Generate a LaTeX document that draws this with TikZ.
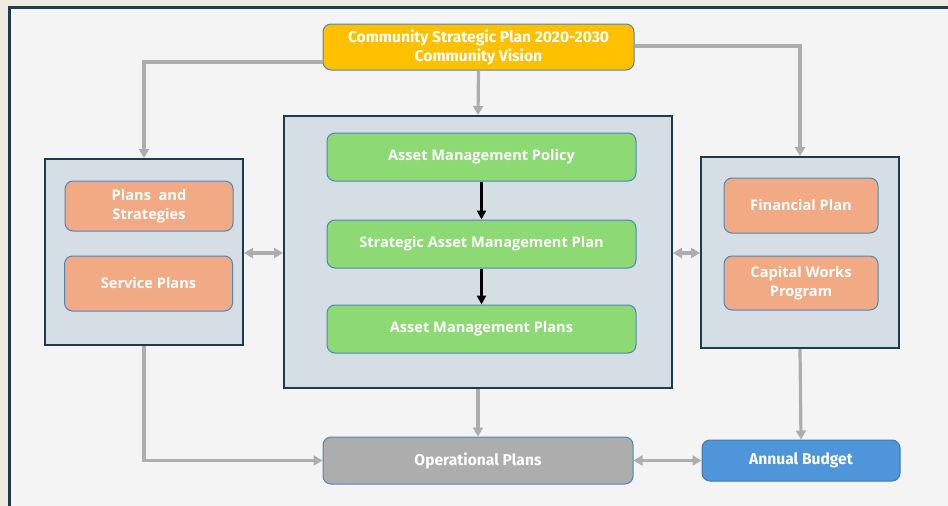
\documentclass[tikz,border=0pt]{standalone}
\usepackage{fontspec}
\setmainfont{Open Sans}
\newfontfamily\condfont{Fira Sans}
\usetikzlibrary{arrows.meta}

\definecolor{pagebg}{HTML}{EEECE1}
\definecolor{framebg}{HTML}{F4F4F4}
\definecolor{framedark}{HTML}{1E3A4C}
\definecolor{panelfill}{HTML}{D5DEE4}
\definecolor{boxline}{HTML}{4A86C0}
\definecolor{visionfill}{HTML}{FFC000}
\definecolor{amfill}{HTML}{8DD973}
\definecolor{planfill}{HTML}{F2AA84}
\definecolor{opfill}{HTML}{ADADAD}
\definecolor{budgetfill}{HTML}{4F95DA}
\definecolor{linkgray}{HTML}{ADADAD}

\begin{document}
\begin{tikzpicture}[x=1pt, y=-1pt,
    every node/.style={font=\bfseries\fontsize{14.6}{18.5}\selectfont, text=white, align=center},
    panel/.style={draw=framedark, line width=2pt, fill=panelfill},
    box/.style={draw=boxline, line width=1pt, rounded corners=8pt, inner sep=0pt},
    cond_box/.style={box, font=\condfont\bfseries\fontsize{15.6}{19}\selectfont},
    link/.style={draw=linkgray, line width=3.2pt, -{Triangle[length=9pt, width=10pt]}},
    dlink/.style={link, {Triangle[length=9pt, width=10pt]}-{Triangle[length=9pt, width=10pt]}},
    flow/.style={draw=black, line width=2.6pt, -{Triangle[length=9pt, width=9pt]}}
  ]
  \useasboundingbox (0,0) rectangle (948,506);

  % Hintergrund und Rahmen
  \fill[pagebg] (0,0) rectangle (948,506);
  \draw[framedark, line width=3pt, fill=framebg] (9,7) rectangle (962,520);

  % Vision oben
  \node[cond_box, fill=visionfill, minimum width=311, minimum height=46] (csp) at (478.5,47)
    {Community Strategic Plan 2020-2030\\Community Vision};

  % drei Gruppen
  \node[panel, minimum width=198, minimum height=186] (left) at (144,252) {};
  \node[panel, minimum width=388, minimum height=272] (mid) at (478,252) {};
  \node[panel, minimum width=198, minimum height=191] (right) at (800,252.5) {};

  % linke Gruppe
  \node[box, fill=planfill, minimum width=168, minimum height=50] (strat) at (149,206)
    {Plans\ \ and\\Strategies};
  \node[box, fill=planfill, minimum width=168, minimum height=55] (service) at (148.5,283.5)
    {Service Plans};

  % Asset Management (Mitte)
  \node[box, fill=amfill, minimum width=309, minimum height=48] (policy) at (481.5,157)
    {Asset Management Policy};
  \node[box, fill=amfill, minimum width=309, minimum height=48] (samp) at (481.5,244)
    {Strategic Asset Management Plan};
  \node[box, fill=amfill, minimum width=309, minimum height=48] (amp) at (481.5,329)
    {Asset Management Plans};

  % rechte Gruppe
  \node[box, fill=planfill, minimum width=154, minimum height=55] (fin) at (801,205.5)
    {Financial Plan};
  \node[box, fill=planfill, minimum width=154, minimum height=54] (cwp) at (801,283)
    {Capital Works\\Program};

  % unten
  \node[cond_box, fill=opfill, minimum width=310, minimum height=47] (ops) at (478,460.5)
    {Operational Plans};
  \node[cond_box, fill=budgetfill, draw=budgetfill!80!black, minimum width=198, minimum height=41] (budget) at (801,460.5)
    {Annual Budget};

  % Verbindungen
  \draw[flow] (policy) -- (samp);
  \draw[flow] (samp) -- (amp);

  \draw[link] (csp.south) -- (mid.north);
  \draw[link] (csp.west |- 0,62) -| (left.north);
  \draw[link] (csp.east |- 0,46) -| (right.north);
  \draw[dlink] (left.east |- 0,253) -- (mid.west |- 0,253);
  \draw[dlink] (mid.east |- 0,253) -- (right.west |- 0,253);
  \draw[link] (mid.south -| ops.north) -- (ops.north);
  \draw[link] (left.south) |- (ops.west);
  \draw[link] (right.south) -- (budget.north);
  \draw[dlink] (ops.east) -- (budget.west);

\end{tikzpicture}
\end{document}
